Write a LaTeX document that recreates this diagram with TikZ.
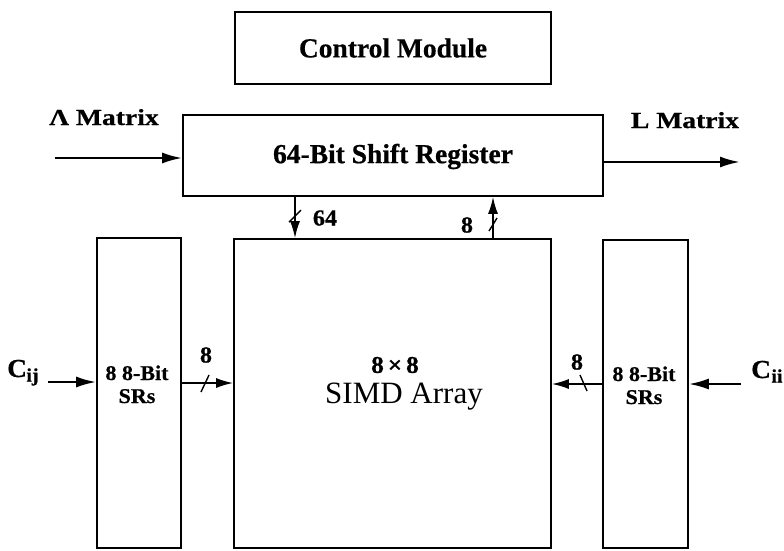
\documentclass[tikz,border=0pt]{standalone}
\usepackage{fontspec}
\setmainfont{Liberation Serif}[BoldFeatures={FakeBold=0.6}]
\newfontfamily\widefont{Liberation Serif}[FakeStretch=1.2, BoldFeatures={FakeBold=0.6}]
\newfontfamily\midfont{Liberation Serif}[FakeStretch=1.05, BoldFeatures={FakeBold=0.6}]
\usetikzlibrary{arrows.meta}
\begin{document}
\begin{tikzpicture}[x=1pt,y=-1pt,
  box/.style={draw, line width=1.6pt, inner sep=0pt, rectangle},
  conn/.style={line width=2.4pt, -{Latex[length=20pt,width=11pt]}},
  bus/.style={line width=1.8pt, -{Latex[length=17pt,width=10pt]}},
  tick/.style={line width=1.4pt},
  big/.style={font=\fontsize{27.5}{30}\selectfont\bfseries, inner sep=0pt},
  lab/.style={font=\widefont\fontsize{23}{24}\selectfont\bfseries, inner sep=0pt},
  srlab/.style={font=\midfont\fontsize{21}{23}\selectfont\bfseries, inner sep=0pt, align=center},
  num/.style={font=\midfont\fontsize{23}{24}\selectfont\bfseries, inner sep=0pt}]
\useasboundingbox (0,0) rectangle (784,550);

% boxes
\node[box, minimum width=316pt, minimum height=72pt] (ctrl) at (393,48) {};
\node[big] (ctrltxt) at (393,48) {Control Module};
\node[box, minimum width=420pt, minimum height=81pt] (sreg) at (393,155.5) {};
\node[big] (sregtxt) at (393,156.5) {64-Bit Shift Register};
\node[box, minimum width=317pt, minimum height=309pt] (simd) at (392.5,393.5) {};
\node[box, minimum width=84pt, minimum height=310pt] (lsr) at (139,393) {};
\node[box, minimum width=85pt, minimum height=308pt] (rsr) at (645.5,394) {};

% texts in boxes
\node[num, font=\midfont\fontsize{24}{26}\selectfont\bfseries] (eight8) at (395,365) {8\,×\,8};
\node[inner sep=0pt, font=\fontsize{31}{33}\selectfont, anchor=base] (simdtxt) at (404,403) {SIMD Array};
\node[srlab, anchor=base] (lsrt1) at (137,380) {8 8-Bit};
\node[srlab, anchor=base] (lsrt2) at (137,403) {SRs};
\node[srlab, anchor=base] (rsrt1) at (644,381) {8 8-Bit};
\node[srlab, anchor=base] (rsrt2) at (644,404) {SRs};

% outer labels
\node[lab, anchor=base] (lam) at (104,125) {Λ Matrix};
\node[lab, anchor=base] (lmat) at (685,128) {L Matrix};
\node[anchor=base west, inner sep=0pt, font=\midfont\fontsize{26}{28}\selectfont\bfseries] (cij) at (7,377) {C\kern-0.5pt\raisebox{-4.5pt}{\fontsize{19}{20}\selectfont ij}};
\node[anchor=base west, inner sep=0pt, font=\midfont\fontsize{26}{28}\selectfont\bfseries] (cii) at (751,378) {C\kern0.5pt\raisebox{-4.5pt}{\fontsize{19}{20}\selectfont ii}};

% free ends
\coordinate (lamin) at (55,158);
\coordinate (lout) at (740,162);
\coordinate (cijin) at (48,382);
\coordinate (ciiin) at (741,384);
\coordinate (dcol) at (295,0);
\coordinate (ucol) at (493,0);
\coordinate (lrow) at (0,383);
\coordinate (rrow) at (0,384);

% connectors
\draw[conn] (lamin) -- (lamin -| sreg.west);
\draw[conn] (sreg.east |- lout) -- (lout);
\draw[conn] (cijin) -- (cijin -| lsr.west);
\draw[conn] (ciiin) -- (ciiin -| rsr.east);
\draw[bus] (dcol |- sreg.south) -- (dcol |- simd.north);
\draw[bus] (ucol |- simd.north) -- (ucol |- sreg.south);
\draw[bus] (lsr.east |- lrow) -- (simd.west |- lrow);
\draw[bus] (rsr.west |- rrow) -- (simd.east |- rrow);

% bus width ticks
\draw[tick] (289,222) -- (301,210);
\draw[tick] (489,231) -- (497,218);
\draw[tick] (201,392) -- (209,375);
\draw[tick] (580,375) -- (587,391);

% bus width labels
\node[num] (n64) at (325,218) {64};
\node[num] (n8u) at (467,225) {8};
\node[num] (n8l) at (206,355) {8};
\node[num] (n8r) at (577,362) {8};
\end{tikzpicture}
\end{document}
